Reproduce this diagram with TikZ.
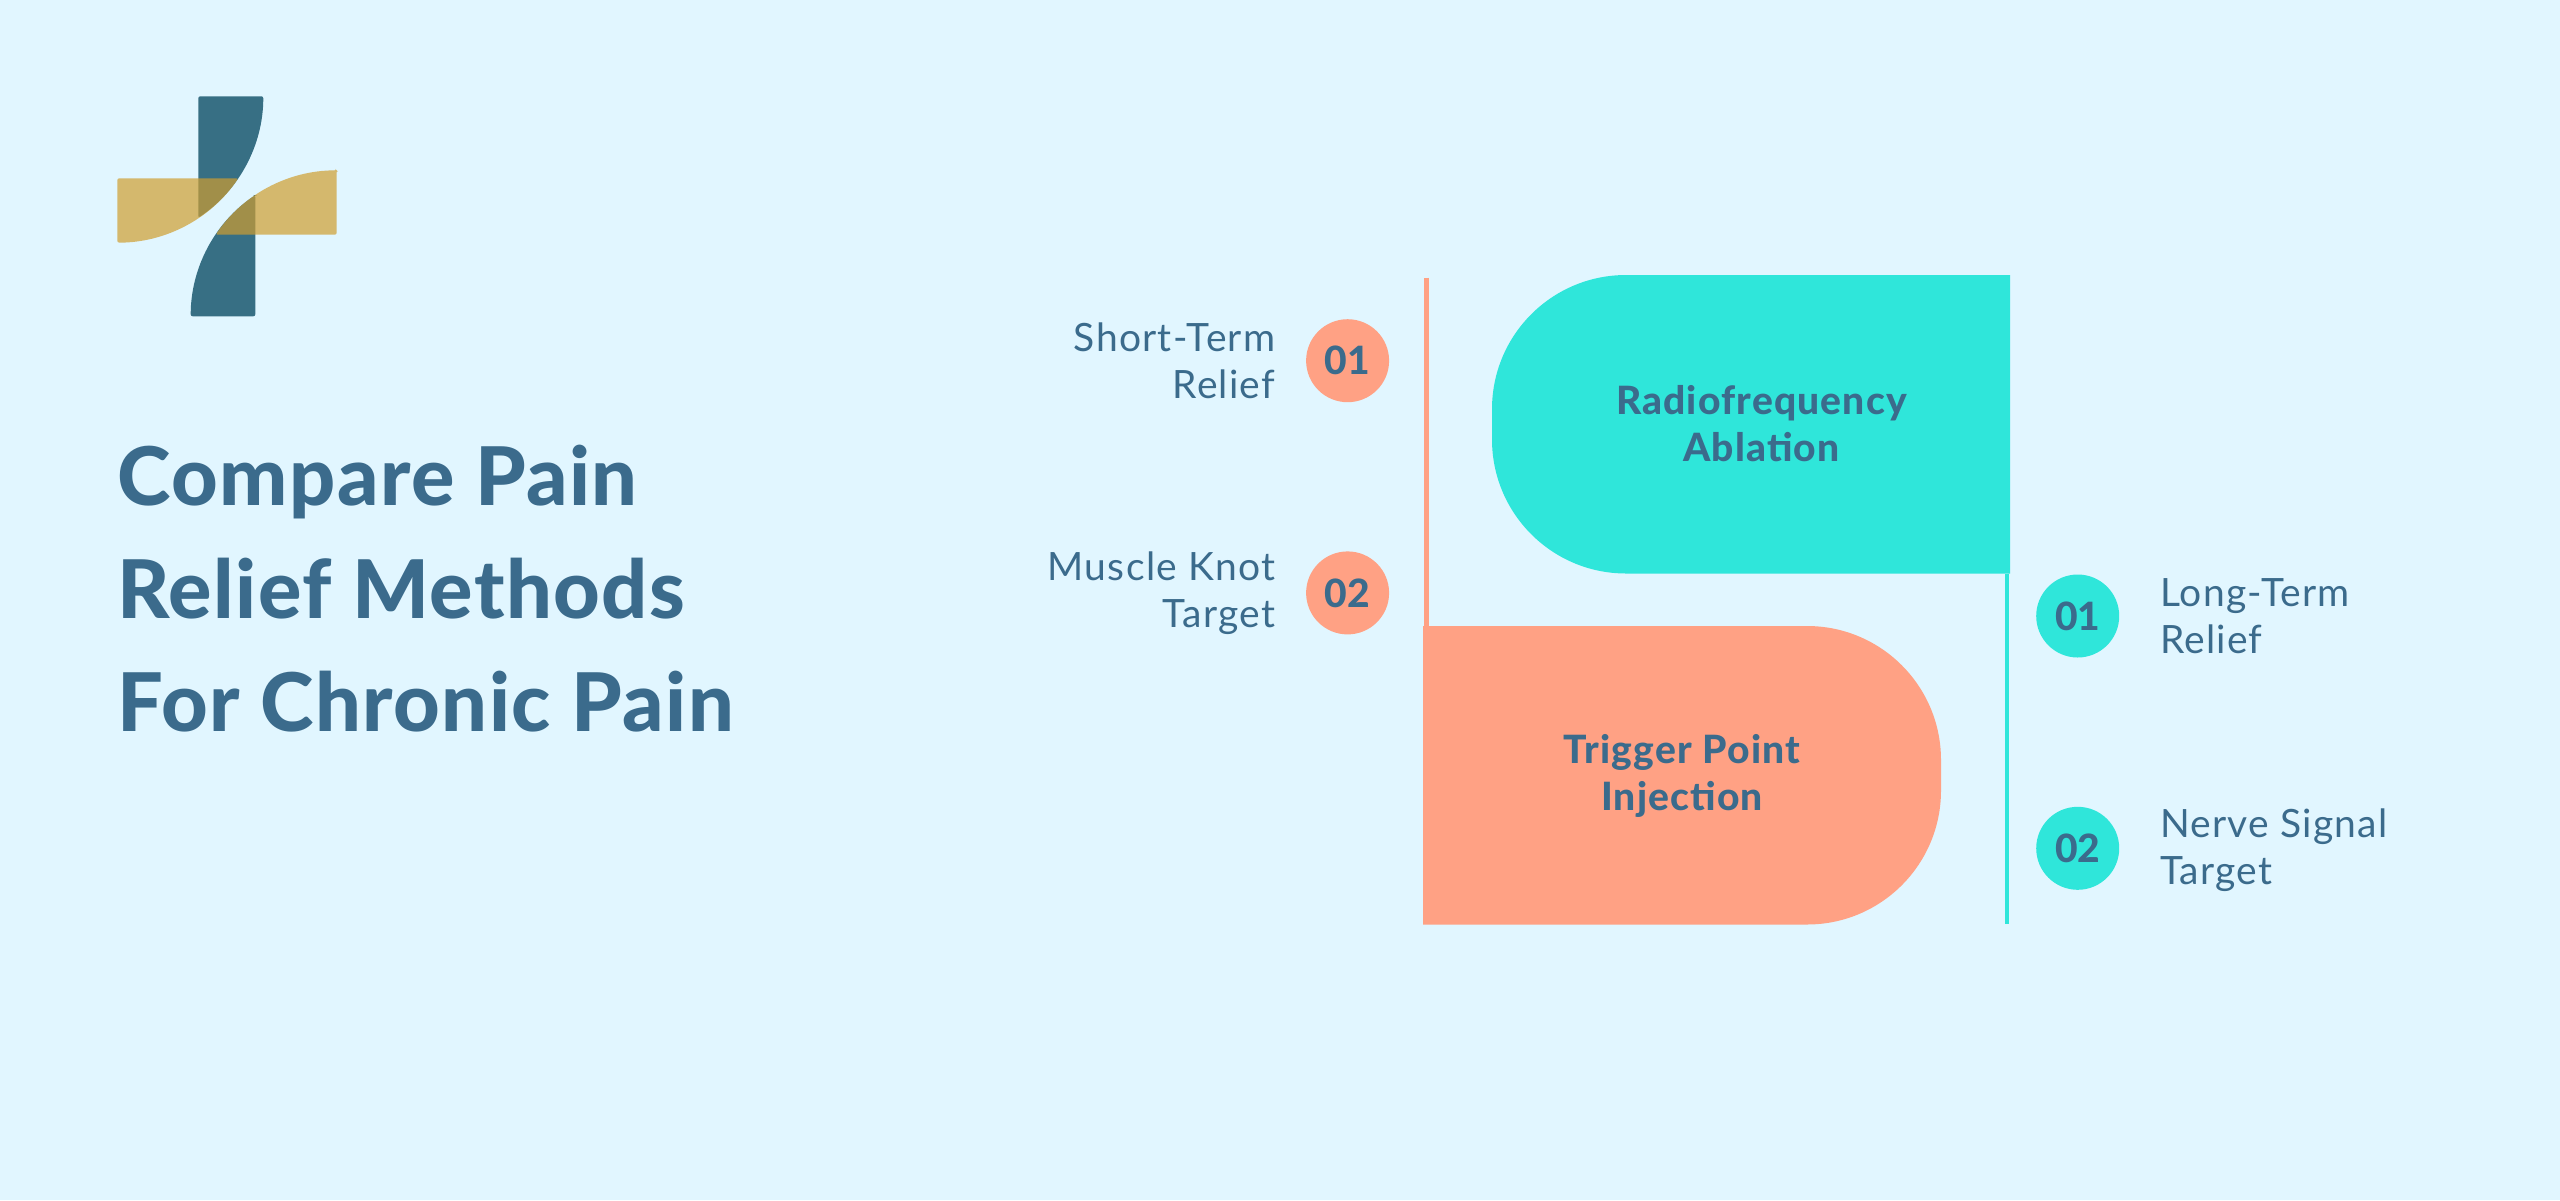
\documentclass[tikz,border=0pt]{standalone}
\usepackage{fontspec}
\setmainfont{Lato}
\newfontfamily\heavyfont{Lato Heavy}
\usetikzlibrary{positioning}
\definecolor{pagebg}{HTML}{E1F6FF}
\definecolor{inktext}{HTML}{3B6B8C}
\definecolor{tealbox}{HTML}{2FE6DA}
\definecolor{salmonbox}{HTML}{FFA184}
\definecolor{logoblue}{HTML}{376F84}
\definecolor{logogold}{HTML}{CF9E30}

\tikzset{
  badge/.style={circle, minimum size=41.5pt, inner sep=0pt, text=inktext, font=\fontsize{19.5}{23.5}\selectfont\heavyfont},
  sidelabel/.style={inner sep=0pt, text=inktext, font=\fontsize{19.5}{23.5}\selectfont\addfontfeature{LetterSpace=3.2}},
  boxlabel/.style={inner sep=0pt, align=center, text=inktext, font=\fontsize{19.5}{23.5}\selectfont\heavyfont\addfontfeature{LetterSpace=3}},
  logobar/.style={fill=logoblue, rounded corners=1pt},
  logoband/.style={fill=logogold, fill opacity=0.7, rounded corners=1pt},
}

\begin{document}
\begin{tikzpicture}[x=0.5pt, y=-0.5pt, node distance=15.5pt]
            \fill[pagebg] (0,0) rectangle (2560,1200);

            % logo
            \fill[logobar] (198.3,96.3) -- (263.3,96.3) arc[start angle=0, end angle=56.3, radius=146] -- cycle;
            \fill[logobar] (255.3,195.3) -- (255.3,316.3) -- (190.7,316.3) arc[start angle=180, end angle=236, radius=146] -- cycle;
            \fill[logoband] (117.3,178.3) -- (238.3,178.3) arc[start angle=34, end angle=90, radius=146] -- cycle;
            \fill[logoband] (336.7,170.3) -- (336.7,234.7) -- (215.7,234.7) arc[start angle=214, end angle=270, radius=146] -- cycle;

            \node[inner sep=0pt, anchor=west, align=left, text=inktext, font=\fontsize{40.5}{56.5}\selectfont\heavyfont\addfontfeature{LetterSpace=1.8}] (title) at (117,588.5) {Compare Pain\\Relief Methods\\For Chronic Pain};

            % the two boxes
            \fill[tealbox] (2010,275) [rounded corners=67pt] -- (1492,275) -- (1492,573.5) [sharp corners] -- (2010,573.5) -- cycle;
            \fill[salmonbox] (1423,626) [rounded corners=67pt] -- (1941,626) -- (1941,924.5) [sharp corners] -- (1423,924.5) -- cycle;

            \node[boxlabel] (ablation) at (1761.5,424) {Radiofrequency\\Ablation};
            \node[boxlabel] (trigger) at (1682,775.5) {Trigger Point\\Injection};

            \coordinate (salmontop) at (1426.3,277.7);
            \coordinate (salmonend) at (1426.3,626);
            \coordinate (tealtop) at (2006.8,573.5);
            \coordinate (tealend) at (2006.8,924.3);
            \draw[salmonbox, line width=2.3pt] (salmontop) -- (salmonend);
            \draw[tealbox, line width=2.1pt] (tealtop) -- (tealend);

            \node[badge, fill=salmonbox] (short) at (1347.6,360.7) {01};
            \node[badge, fill=salmonbox] (muscle) at (1347.6,592.9) {02};
            \node[badge, fill=tealbox] (long) at (2077.7,616) {01};
            \node[badge, fill=tealbox] (nerve) at (2077.7,848.3) {02};

            \node[sidelabel, align=right, left=15pt of short] (shortlabel) {Short-Term\\Relief};
            \node[sidelabel, align=right, left=15pt of muscle] (musclelabel) {Muscle Knot\\Target};
            \node[sidelabel, align=left, right=20pt of long] (longlabel) {Long-Term\\Relief};
            \node[sidelabel, align=left, right=20pt of nerve, yshift=-1pt] (nervelabel) {Nerve Signal\\Target};
\end{tikzpicture}
\end{document}
